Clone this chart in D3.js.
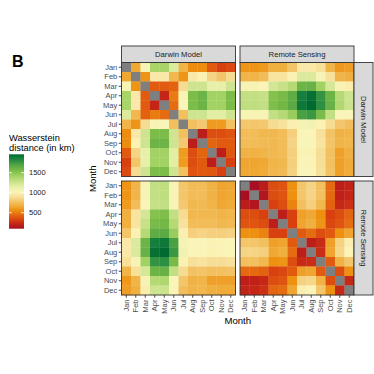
<!DOCTYPE html>
<html>
<head>
<meta charset="utf-8">
<script src="https://cdn.jsdelivr.net/npm/d3@7"></script>
<style>
  body { margin: 0; background: #fff; }
  text { font-family: "Liberation Sans", Arial, sans-serif; }
</style>
</head>
<body>
<div id="chart"></div>
<script>
// month labels, rows/cols of every panel
const months = ['Jan', 'Feb', 'Mar', 'Apr', 'May', 'Jun', 'Jul', 'Aug', 'Sep', 'Oct', 'Nov', 'Dec'];
const sources = ['Darwin Model', 'Remote Sensing'];

// distances (km) Darwin month vs Darwin month, diagonal missing
const darwin = [
  [null, 650, 1050, 1400, 1400, 1200, 700, 550, 550, 400, 320, 350],
  [650, null, 580, 950, 950, 720, 580, 950, 1000, 850, 780, 880],
  [1050, 580, null, 400, 400, 420, 880, 1250, 1250, 1150, 1150, 1250],
  [1400, 950, 400, null, 220, 500, 1050, 1550, 1600, 1420, 1420, 1550],
  [1400, 950, 400, 220, null, 450, 1030, 1550, 1600, 1420, 1420, 1550],
  [1200, 720, 420, 500, 450, null, 760, 1250, 1250, 1170, 1170, 1250],
  [700, 580, 880, 1050, 1030, 760, null, 760, 800, 600, 600, 760],
  [550, 950, 1250, 1550, 1550, 1250, 760, null, 180, 360, 360, 380],
  [550, 1000, 1250, 1600, 1600, 1250, 800, 180, null, 430, 400, 400],
  [400, 850, 1150, 1420, 1420, 1170, 600, 360, 430, null, 190, 390],
  [320, 780, 1150, 1420, 1420, 1170, 600, 360, 400, 190, null, 320],
  [350, 880, 1250, 1550, 1550, 1250, 760, 380, 400, 390, 320, null]
];

// rows = Darwin month, cols = Remote Sensing month
const cross = [
  [580, 580, 600, 680, 680, 780, 950, 950, 900, 700, 590, 610],
  [700, 700, 740, 920, 920, 1000, 1200, 1200, 1050, 900, 700, 680],
  [1050, 1050, 1020, 1230, 1280, 1350, 1600, 1620, 1420, 1220, 1050, 980],
  [1300, 1300, 1280, 1520, 1560, 1650, 1870, 1930, 1780, 1600, 1350, 1250],
  [1310, 1310, 1300, 1540, 1580, 1660, 1900, 1960, 1800, 1620, 1370, 1260],
  [1050, 1050, 1050, 1300, 1350, 1450, 1720, 1760, 1560, 1300, 1030, 1030],
  [790, 790, 800, 880, 910, 990, 1060, 1080, 1000, 880, 790, 750],
  [740, 740, 720, 720, 740, 830, 1020, 1020, 900, 770, 690, 700],
  [740, 740, 730, 720, 740, 850, 1030, 1030, 920, 780, 700, 710],
  [690, 690, 700, 720, 740, 830, 1000, 1000, 890, 760, 620, 680],
  [640, 640, 650, 700, 720, 830, 1010, 1010, 890, 760, 620, 660],
  [650, 650, 660, 710, 730, 840, 1020, 1020, 900, 770, 620, 660]
];

// Remote Sensing month vs Remote Sensing month
const remote = [
  [null, 100, 180, 360, 380, 560, 790, 850, 760, 440, 190, 210],
  [100, null, 140, 360, 380, 560, 790, 850, 760, 440, 200, 220],
  [180, 140, null, 320, 360, 520, 760, 830, 720, 420, 230, 260],
  [360, 360, 320, null, 190, 320, 620, 650, 560, 320, 360, 430],
  [380, 380, 360, 190, null, 320, 640, 680, 580, 340, 380, 450],
  [560, 560, 520, 320, 320, null, 400, 450, 360, 400, 560, 640],
  [790, 790, 760, 620, 640, 400, null, 190, 240, 620, 840, 990],
  [850, 850, 830, 650, 680, 450, 190, null, 250, 640, 860, 1020],
  [760, 760, 720, 560, 580, 360, 240, 250, null, 400, 690, 790],
  [440, 440, 420, 320, 340, 400, 620, 640, 400, null, 360, 560],
  [190, 200, 230, 360, 380, 560, 840, 860, 690, 360, null, 230],
  [210, 220, 260, 430, 450, 640, 990, 1020, 790, 560, 230, null]
];

const legendTicks = [500, 1000, 1500];

//layout
const width = 374, height = 374;
const panel = 114, gap = 4.5;
const left0 = 121.5, top0 = 62.5;
const stripH = 16.5, stripW = 19;

const svg = d3.select('#chart').append('svg')
  .attr('width', width)
  .attr('height', height);
svg.append('rect').attr('width', width).attr('height', height).attr('fill', '#fff');

//colour scale: red -> orange -> pale yellow -> green
const allVals = [].concat(...darwin, ...cross, ...remote).filter(v => v != null);
const ext = d3.extent(allVals);
const colStops = [100, 200, 320, 420, 560, 680, 800, 900, 1020, 1150, 1250, 1400, 1550, 1700, 1850, 1960];
const colList = ['#a80f22', '#c02018', '#d84010', '#e26210', '#ee9010', '#f0b040', '#f4c870', '#f7e09a',
  '#fbf4b8', '#e6f0a8', '#cfe490', '#a8d468', '#7cbc48', '#50a444', '#1a8440', '#006a30'];
const color = d3.scaleLinear().domain(colStops).range(colList).clamp(true);

// which values go in a panel
function cellValue(r, c, i, j) {
  if (r === 0 && c === 0) return darwin[i][j];
  if (r === 0 && c === 1) return cross[i][j];
  if (r === 1 && c === 0) return cross[j][i];
  return remote[i][j];
}

for (let r = 0; r < 2; r++) {
  for (let c = 0; c < 2; c++) {
    const px = left0 + c * (panel + gap);
    const py = top0 + r * (panel + gap);
    const x = d3.scaleBand().domain(months).range([px, px + panel]);
    const y = d3.scaleBand().domain(months).range([py, py + panel]);

    let cells = [];
    months.forEach(function(ym, i) {
      months.forEach(function(xm, j) {
        cells.push({xm: xm, ym: ym, v: cellValue(r, c, i, j)});
      });
    });

    svg.append('g').selectAll('rect')
      .data(cells)
      .enter().append('rect')
      .attr('x', d => x(d.xm))
      .attr('y', d => y(d.ym))
      .attr('width', x.bandwidth() + 0.3)
      .attr('height', y.bandwidth() + 0.3)
      .attr('fill', d => d.v == null ? '#7f7f7f' : color(d.v));

    //panel border
    svg.append('rect')
      .attr('x', px).attr('y', py)
      .attr('width', panel).attr('height', panel)
      .attr('fill', 'none')
      .attr('stroke', '#333')
      .attr('stroke-width', 0.9);

    //axes only on outer panels
    if (c === 0) {
      const ax = svg.append('g')
        .attr('transform', `translate(${px},0)`)
        .call(d3.axisLeft(y).tickSize(2.75).tickPadding(1.5));
      ax.select('.domain').remove();
      ax.selectAll('line').style('stroke', '#333').attr('stroke-width', 0.9);
      ax.selectAll('text').style('fill', '#4d4d4d').style('font-size', '7.5px');
    }
    if (r === 1) {
      const ax = svg.append('g')
        .attr('transform', `translate(0,${py + panel})`)
        .call(d3.axisBottom(x).tickSize(2.75));
      ax.select('.domain').remove();
      ax.selectAll('line').style('stroke', '#333').attr('stroke-width', 0.9);
      ax.selectAll('text')
        .style('fill', '#4d4d4d')
        .style('font-size', '7.5px')
        .attr('transform', 'rotate(-90)')
        .attr('x', -4.5)
        .attr('y', 0)
        .attr('dy', '0.35em')
        .style('text-anchor', 'end');
    }
  }
}

//top strips
sources.forEach(function(s, c) {
  const px = left0 + c * (panel + gap);
  svg.append('rect')
    .attr('x', px).attr('y', top0 - stripH)
    .attr('width', panel).attr('height', stripH)
    .attr('fill', '#d9d9d9').attr('stroke', '#333').attr('stroke-width', 0.9);
  svg.append('text')
    .attr('x', px + panel / 2).attr('y', top0 - stripH / 2)
    .attr('dy', '0.35em')
    .style('text-anchor', 'middle')
    .style('font-size', '7.7px')
    .style('fill', '#1a1a1a')
    .text(s);
});

//right strips
sources.forEach(function(s, r) {
  const py = top0 + r * (panel + gap);
  const sx = left0 + 2 * panel + gap;
  svg.append('rect')
    .attr('x', sx).attr('y', py)
    .attr('width', stripW).attr('height', panel)
    .attr('fill', '#d9d9d9').attr('stroke', '#333').attr('stroke-width', 0.9);
  svg.append('text')
    .attr('transform', `translate(${sx + stripW / 2},${py + panel / 2}) rotate(90)`)
    .attr('dy', '0.35em')
    .style('text-anchor', 'middle')
    .style('font-size', '7.7px')
    .style('fill', '#1a1a1a')
    .text(s);
});

//axis titles
svg.append('text')
  .attr('x', left0 + panel + gap / 2).attr('y', 324)
  .style('text-anchor', 'middle')
  .style('font-size', '9.6px')
  .text('Month');
svg.append('text')
  .attr('transform', `translate(96,${top0 + panel + gap / 2}) rotate(-90)`)
  .style('text-anchor', 'middle')
  .style('font-size', '9.6px')
  .text('Month');

//panel tag
svg.append('text')
  .attr('x', 12).attr('y', 66.5)
  .style('font-size', '16px')
  .style('font-weight', 'bold')
  .text('B');

//legend
const legY = d3.scaleLinear().domain(ext).range([228.7, 154.3]);
const grad = svg.append('defs').append('linearGradient')
  .attr('id', 'legGrad')
  .attr('x1', 0).attr('y1', 1).attr('x2', 0).attr('y2', 0);
d3.range(0, 1.0001, 0.02).forEach(function(t) {
  grad.append('stop')
    .attr('offset', t)
    .attr('stop-color', color(ext[0] + t * (ext[1] - ext[0])));
});
svg.append('rect')
  .attr('x', 9).attr('y', legY(ext[1]))
  .attr('width', 15).attr('height', legY(ext[0]) - legY(ext[1]))
  .attr('fill', 'url(#legGrad)');
legendTicks.forEach(function(t) {
  svg.append('line').attr('x1', 9).attr('x2', 12).attr('y1', legY(t)).attr('y2', legY(t))
    .attr('stroke', '#fff').attr('stroke-width', 0.8);
  svg.append('line').attr('x1', 21).attr('x2', 24).attr('y1', legY(t)).attr('y2', legY(t))
    .attr('stroke', '#fff').attr('stroke-width', 0.8);
  svg.append('text')
    .attr('x', 29).attr('y', legY(t))
    .attr('dy', '0.35em')
    .style('font-size', '7.5px')
    .style('fill', '#1a1a1a')
    .text(t);
});
svg.append('text')
  .attr('x', 9).attr('y', 140.5)
  .style('font-size', '9.3px')
  .text('Wasserstein');
svg.append('text')
  .attr('x', 9).attr('y', 150.5)
  .style('font-size', '9.3px')
  .text('distance (in km)');
</script>
</body>
</html>
